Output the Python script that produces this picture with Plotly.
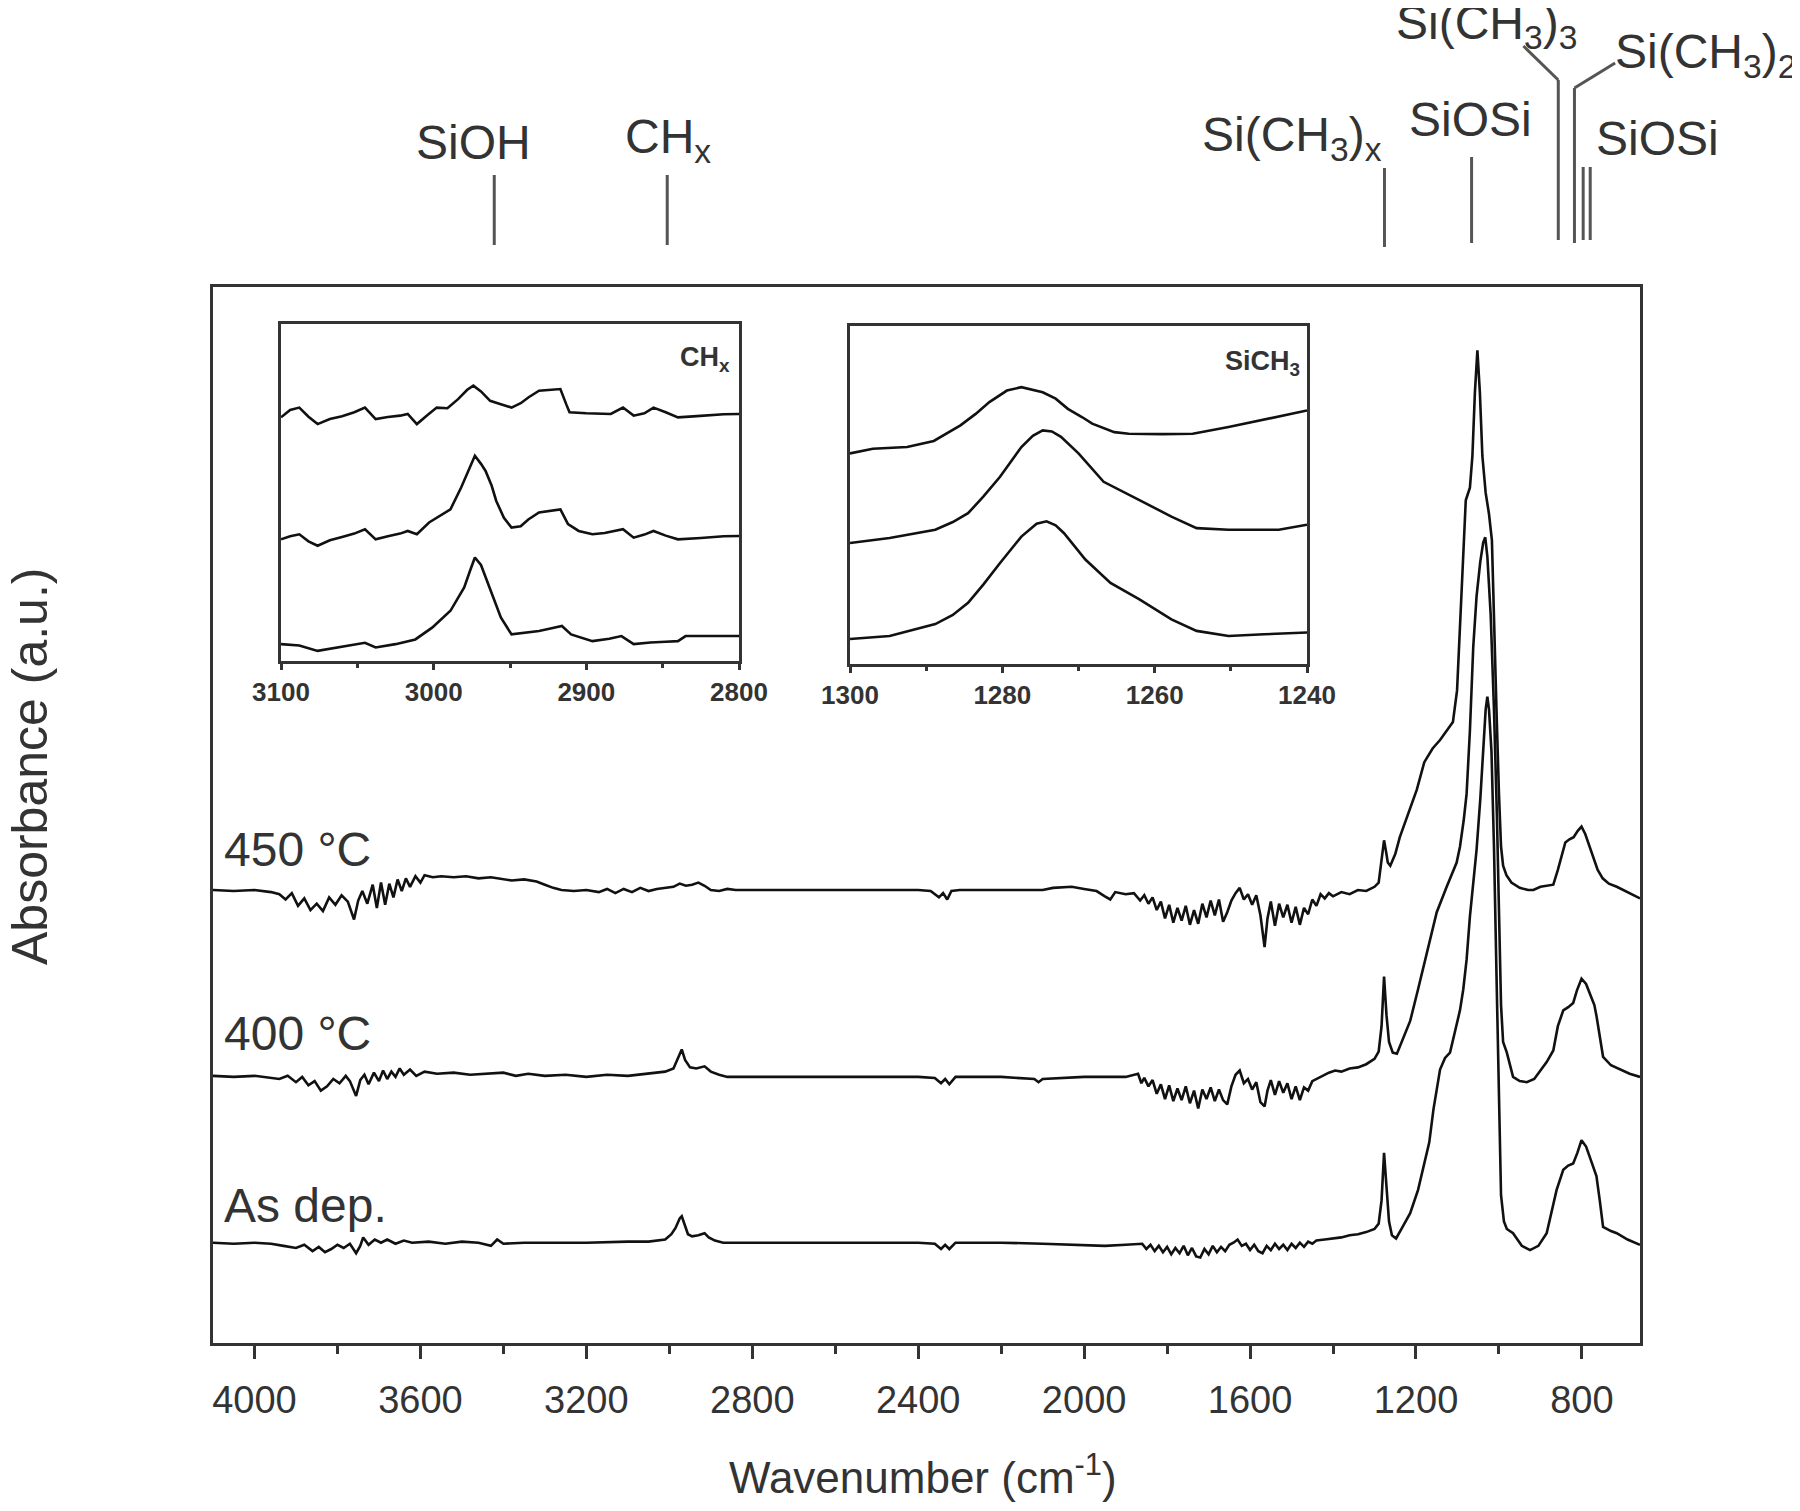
import plotly.graph_objects as go

# ---------------- main spectra (wavenumber, absorbance in arbitrary stacked units) ----------------
WN_450 = [4100, 4050, 4000, 3960, 3940, 3925, 3910, 3895, 3880, 3865,
          3850, 3835, 3820, 3805, 3790, 3775, 3760, 3750, 3740, 3728,
          3715, 3705, 3695, 3685, 3675, 3665, 3655, 3645, 3635, 3625,
          3612, 3600, 3590, 3570, 3550, 3520, 3490, 3460, 3430, 3400,
          3380, 3350, 3320, 3300, 3280, 3260, 3230, 3200, 3170, 3150,
          3130, 3110, 3090, 3070, 3050, 3030, 3010, 2990, 2975, 2960,
          2945, 2930, 2915, 2900, 2880, 2860, 2840, 2700, 2600, 2500,
          2400, 2370, 2350, 2340, 2330, 2320, 2300, 2200, 2100, 2075,
          2030, 2000, 1970, 1950, 1937, 1925, 1900, 1880, 1865, 1855,
          1845, 1835, 1825, 1815, 1805, 1795, 1785, 1775, 1765, 1755,
          1745, 1735, 1725, 1715, 1705, 1695, 1685, 1675, 1665, 1655,
          1645, 1635, 1625, 1615, 1605, 1595, 1585, 1575, 1565, 1558,
          1550, 1540, 1530, 1520, 1510, 1500, 1490, 1480, 1470, 1460,
          1450, 1440, 1430, 1420, 1410, 1400, 1380, 1360, 1340, 1320,
          1300, 1290, 1283, 1277, 1272, 1268, 1262, 1250, 1239, 1220,
          1198, 1180, 1160, 1142, 1125, 1111, 1101, 1094, 1087, 1080,
          1070, 1064, 1058, 1052, 1046, 1040, 1032, 1024, 1017, 1012,
          1006, 1000, 995, 990, 982, 970, 950, 930, 917, 900,
          885, 869, 858, 850, 840, 830, 820, 810, 801, 792,
          782, 772, 762, 750, 735, 716, 690, 660]
A_450 = [42.9, 42.8, 42.9, 42.7, 42.5, 42.0, 42.6, 41.4, 42.1, 41.0,
         41.6, 40.9, 42.2, 41.5, 42.4, 41.8, 40.1, 41.9, 42.8, 41.6,
         43.4, 41.2, 43.6, 41.5, 43.5, 42.2, 43.9, 42.8, 44.0, 43.2,
         44.2, 43.6, 44.3, 44.1, 44.2, 44.1, 44.2, 44.0, 44.1, 43.9,
         43.8, 43.9, 43.7, 43.4, 43.1, 42.9, 42.8, 42.9, 42.7, 43.0,
         42.6, 43.0, 42.7, 43.1, 42.8, 43.0, 43.1, 43.2, 43.5, 43.3,
         43.4, 43.6, 43.3, 42.9, 42.8, 43.0, 42.9, 42.9, 42.9, 42.9,
         42.9, 42.8, 42.2, 42.6, 42.0, 42.8, 42.9, 42.9, 42.9, 43.1,
         43.2, 43.0, 42.8, 42.3, 42.0, 42.7, 42.5, 42.6, 41.9, 42.4,
         41.6, 42.2, 41.0, 41.8, 40.2, 41.5, 39.8, 41.2, 40.0, 41.4,
         39.6, 41.0, 39.7, 41.6, 40.3, 41.9, 40.5, 42.0, 39.9, 40.8,
         41.9, 42.6, 43.1, 42.0, 42.5, 41.5, 42.4, 40.5, 37.5, 40.2,
         41.8, 39.5, 41.6, 40.3, 41.5, 39.8, 41.3, 39.6, 41.2, 40.6,
         42.0, 41.4, 42.5, 42.1, 42.6, 42.3, 42.7, 42.5, 42.9, 42.8,
         43.2, 43.6, 45.5, 47.6, 46.5, 45.5, 45.2, 46.3, 47.9, 50.0,
         52.4, 55.0, 56.3, 57.1, 58.0, 58.8, 61.8, 67.5, 73.9, 79.8,
         81.0, 84.0, 90.0, 94.0, 90.0, 84.0, 80.5, 78.5, 76.0, 68.0,
         60.0, 52.0, 47.0, 45.2, 44.3, 43.6, 43.1, 42.9, 42.9, 43.2,
         43.3, 43.4, 44.8, 46.0, 47.4, 47.7, 47.9, 48.5, 48.9, 48.2,
         47.0, 45.8, 44.8, 44.0, 43.5, 43.2, 42.7, 42.1]

WN_400 = [4100, 4050, 4000, 3960, 3940, 3920, 3900, 3885, 3870, 3855,
          3840, 3825, 3810, 3795, 3780, 3770, 3755, 3745, 3735, 3725,
          3712, 3700, 3690, 3680, 3670, 3660, 3650, 3640, 3625, 3610,
          3590, 3560, 3520, 3480, 3440, 3400, 3370, 3340, 3300, 3250,
          3200, 3150, 3100, 3050, 3010, 2990, 2978, 2970, 2962, 2950,
          2935, 2915, 2900, 2880, 2860, 2800, 2600, 2400, 2360, 2345,
          2335, 2325, 2310, 2200, 2120, 2110, 2100, 2000, 1900, 1870,
          1862, 1855, 1845, 1835, 1825, 1815, 1805, 1795, 1785, 1775,
          1765, 1755, 1745, 1735, 1725, 1715, 1705, 1695, 1685, 1675,
          1665, 1655, 1645, 1635, 1625, 1615, 1605, 1595, 1585, 1575,
          1565, 1558, 1550, 1540, 1530, 1520, 1510, 1500, 1490, 1480,
          1470, 1460, 1450, 1440, 1425, 1410, 1395, 1380, 1360, 1340,
          1320, 1300, 1290, 1283, 1277, 1271, 1265, 1256, 1246, 1230,
          1214, 1195, 1174, 1150, 1126, 1102, 1094, 1085, 1078, 1070,
          1062, 1054, 1045, 1038, 1033, 1028, 1020, 1012, 1005, 999,
          995, 990, 981, 966, 950, 933, 915, 900, 885, 869,
          858, 845, 833, 821, 812, 801, 790, 781, 770, 765,
          757, 749, 730, 708, 685, 660]
A_400 = [25.3, 25.2, 25.3, 25.1, 25.0, 25.3, 24.7, 25.2, 24.4, 24.8,
         23.9, 24.3, 25.0, 24.6, 25.3, 24.8, 23.4, 24.9, 25.4, 24.5,
         25.6, 24.8, 25.8, 25.0, 25.7, 25.2, 26.0, 25.4, 25.9, 25.3,
         25.7, 25.5, 25.6, 25.4, 25.5, 25.6, 25.3, 25.5, 25.3, 25.4,
         25.2, 25.4, 25.3, 25.5, 25.7, 26.0, 27.0, 27.8, 26.8, 26.1,
         26.0, 26.2, 25.7, 25.4, 25.2, 25.2, 25.2, 25.2, 25.1, 24.6,
         25.0, 24.5, 25.2, 25.2, 25.0, 24.7, 25.0, 25.2, 25.2, 25.5,
         24.6, 25.1, 24.3, 24.9, 23.6, 24.5, 23.1, 24.4, 22.9, 24.1,
         23.0, 24.3, 22.7, 23.9, 22.2, 24.0, 23.1, 24.2, 22.9, 24.0,
         23.0, 22.6, 24.3, 25.4, 25.8, 24.6, 25.0, 24.0, 24.7, 22.8,
         22.4, 23.9, 24.9, 23.5, 24.8, 23.7, 24.6, 23.1, 24.3, 23.0,
         24.2, 23.9, 24.8, 25.0, 25.3, 25.6, 25.8, 25.7, 26.0, 26.1,
         26.4, 26.9, 27.6, 30.0, 34.7, 31.0, 28.5, 27.5, 27.4, 29.0,
         30.5, 33.5, 37.0, 40.8, 43.2, 45.5, 47.0, 49.5, 52.0, 58.0,
         65.9, 70.7, 74.0, 75.8, 76.3, 74.5, 69.0, 60.0, 50.0, 40.0,
         32.0, 28.5, 27.5, 25.2, 24.8, 24.7, 25.0, 25.8, 26.6, 27.7,
         30.0, 31.5, 31.8, 32.2, 33.4, 34.5, 34.0, 33.1, 32.0, 31.0,
         29.0, 27.1, 26.3, 25.9, 25.5, 25.2]

WN_AS = [4100, 4050, 4000, 3960, 3930, 3900, 3880, 3860, 3845, 3830,
         3815, 3800, 3785, 3770, 3755, 3745, 3738, 3725, 3710, 3695,
         3680, 3660, 3640, 3620, 3580, 3540, 3500, 3460, 3430, 3415,
         3400, 3350, 3300, 3200, 3100, 3050, 3010, 2995, 2985, 2975,
         2970, 2962, 2955, 2945, 2930, 2915, 2905, 2890, 2870, 2800,
         2600, 2400, 2360, 2345, 2335, 2325, 2310, 2200, 2100, 2000,
         1950, 1900, 1860, 1850, 1840, 1830, 1820, 1810, 1800, 1790,
         1780, 1770, 1760, 1750, 1740, 1730, 1720, 1710, 1700, 1690,
         1680, 1670, 1660, 1650, 1640, 1630, 1620, 1610, 1600, 1590,
         1580, 1570, 1560, 1550, 1540, 1530, 1520, 1510, 1500, 1490,
         1480, 1470, 1460, 1450, 1440, 1420, 1400, 1380, 1360, 1340,
         1320, 1300, 1290, 1283, 1277, 1271, 1265, 1258, 1248, 1235,
         1214, 1195, 1182, 1168, 1158, 1142, 1130, 1118, 1106, 1094,
         1086, 1078, 1070, 1062, 1054, 1045, 1038, 1032, 1028, 1024,
         1018, 1012, 1006, 1000, 995, 988, 981, 966, 945, 925,
         905, 885, 870, 861, 845, 833, 821, 811, 801, 790,
         781, 765, 757, 749, 730, 716, 690, 660]
A_AS = [9.5, 9.4, 9.5, 9.4, 9.2, 9.0, 9.3, 8.7, 9.1, 8.6,
        8.9, 9.3, 9.0, 9.4, 8.5, 9.2, 10.0, 9.3, 9.8, 9.5,
        9.8, 9.4, 9.7, 9.5, 9.6, 9.4, 9.6, 9.5, 9.2, 9.8,
        9.4, 9.5, 9.5, 9.5, 9.6, 9.6, 9.8, 10.3, 10.9, 11.8,
        12.0, 11.0, 10.3, 10.1, 10.2, 10.4, 10.0, 9.7, 9.5, 9.5,
        9.5, 9.5, 9.4, 8.9, 9.3, 8.9, 9.5, 9.5, 9.4, 9.3,
        9.2, 9.3, 9.4, 8.9, 9.3, 8.7, 9.2, 8.6, 9.1, 8.4,
        9.0, 8.5, 9.2, 8.3, 9.0, 8.2, 8.1, 8.9, 8.4, 9.2,
        8.6, 9.1, 8.7, 9.3, 9.5, 9.8, 9.2, 9.4, 8.8, 9.3,
        8.7, 8.5, 9.2, 8.8, 9.4, 8.9, 9.3, 8.8, 9.4, 9.0,
        9.5, 9.1, 9.6, 9.4, 9.7, 9.8, 9.9, 10.0, 10.2, 10.3,
        10.5, 10.8, 11.3, 13.5, 18.0, 14.5, 11.5, 10.2, 9.9, 10.8,
        12.3, 14.5, 16.7, 19.0, 22.1, 25.9, 27.0, 27.5, 29.5, 31.5,
        33.5, 36.3, 40.4, 43.5, 46.7, 51.5, 56.0, 60.0, 61.2, 60.0,
        56.0, 47.0, 35.0, 22.0, 14.0, 11.5, 10.8, 10.4, 9.2, 8.8,
        9.2, 10.4, 12.8, 14.5, 16.4, 16.8, 17.0, 18.0, 19.2, 18.6,
        17.6, 15.8, 13.5, 11.0, 10.6, 10.4, 9.8, 9.3]

SAMPLE_NAMES = ["450 °C", "400 °C", "As dep."]

# ---------------- inset 1: CHx region ----------------
CH_WN_450 = [3100, 3094, 3088, 3082, 3076, 3068, 3060, 3052, 3045, 3038,
             3030, 3022, 3017, 3011, 3004, 2998, 2991, 2984, 2978, 2974,
             2969, 2963, 2956, 2949, 2943, 2938, 2931, 2924, 2917, 2913,
             2911, 2900, 2890, 2884, 2876, 2869, 2862, 2856, 2848, 2840,
             2830, 2820, 2810, 2800]
CH_A_450 = [72.3, 74.5, 75.2, 72.5, 70.3, 71.8, 72.6, 73.8, 75.2, 71.8,
            72.4, 72.8, 73.3, 70.3, 73.0, 75.2, 75.0, 77.7, 80.5, 81.7,
            80.0, 77.2, 76.2, 75.2, 76.5, 78.2, 80.2, 80.5, 80.7, 76.0,
            73.8, 73.5, 73.4, 73.3, 75.2, 72.8, 73.5, 75.2, 73.8, 72.3,
            72.6, 73.0, 73.2, 73.3]
CH_WN_400 = [3100, 3094, 3088, 3082, 3076, 3068, 3060, 3052, 3045, 3038,
             3030, 3022, 3017, 3011, 3003, 2996, 2989, 2982, 2977, 2973,
             2969, 2966, 2962, 2959, 2954, 2949, 2943, 2938, 2931, 2924,
             2917, 2912, 2905, 2896, 2888, 2876, 2869, 2862, 2856, 2848,
             2840, 2825, 2810, 2800]
CH_A_400 = [36.1, 37.0, 37.6, 35.5, 34.2, 35.8, 36.8, 37.8, 39.1, 36.1,
            37.0, 37.8, 38.6, 37.6, 41.1, 43.0, 45.0, 51.5, 57.0, 60.9,
            58.5, 56.4, 52.0, 47.5, 42.5, 39.6, 40.0, 42.0, 44.1, 44.5,
            45.0, 40.6, 38.6, 37.6, 38.0, 39.1, 36.6, 37.5, 38.6, 37.2,
            36.1, 36.5, 37.0, 37.1]
CH_WN_AS = [3100, 3088, 3076, 3060, 3045, 3038, 3025, 3012, 3001, 2989,
            2980, 2976, 2973, 2969, 2966, 2961, 2956, 2949, 2940, 2931,
            2922, 2916, 2910, 2903, 2896, 2885, 2877, 2869, 2858, 2848,
            2840, 2835, 2820, 2800]
CH_A_AS = [5.0, 4.6, 3.0, 4.2, 5.4, 4.0, 5.0, 6.4, 9.9, 14.9,
           21.8, 27.0, 30.7, 28.5, 24.8, 18.5, 12.9, 7.9, 8.3, 8.9,
           9.8, 10.4, 7.9, 6.8, 5.9, 6.6, 7.4, 5.0, 5.5, 5.7,
           5.9, 7.4, 7.4, 7.4]

# ---------------- inset 2: SiCH3 region ----------------
SI_WN_450 = [1300, 1297, 1292.5, 1289, 1285.5, 1283.5, 1281.7, 1279.4, 1277.5, 1274.7,
             1273, 1271.4, 1269.5, 1268.2, 1265.3, 1263.4, 1259, 1255, 1250.3, 1244.2, 1240]
SI_A_450 = [62.3, 63.7, 64.2, 66.0, 70.6, 74.0, 77.5, 80.9, 81.9, 80.4,
            78.5, 75.5, 73.0, 71.1, 68.6, 68.1, 68.0, 68.1, 70.1, 73.0, 75.0]
SI_WN_400 = [1300, 1294.8, 1288.8, 1286.5, 1284.5, 1282.5, 1280.3, 1277.5, 1276, 1274.7,
             1273.5, 1272.3, 1270, 1268.3, 1266.7, 1262, 1257.8, 1254.5, 1250.3, 1243.7, 1240]
SI_A_400 = [35.8, 37.3, 39.7, 42.0, 44.6, 49.5, 55.4, 64.2, 67.5, 69.1,
            68.8, 67.2, 62.3, 58.0, 53.9, 48.5, 43.6, 40.2, 39.7, 39.7, 41.2]
SI_WN_AS = [1300, 1294.8, 1288.8, 1286.5, 1284.5, 1282.5, 1280.3, 1277.5, 1275.5, 1274.2,
            1273, 1271.9, 1269.1, 1265.8, 1262, 1257.8, 1254.5, 1250.3, 1245.6, 1240]
SI_A_AS = [7.4, 8.3, 11.8, 14.5, 18.1, 23.5, 29.9, 37.7, 41.5, 42.2,
           41.0, 38.7, 30.9, 24.0, 19.1, 13.2, 9.8, 8.3, 8.8, 9.3]

# ---------------- band assignments above the frame ----------------
BAND_WN = [3422, 3005, 1276, 1066, 818, 797, 780]
BAND_NAMES = ["SiOH", "CH<sub>x</sub>", "Si(CH<sub>3</sub>)<sub>x</sub>", "SiOSi",
              "Si(CH<sub>3</sub>)<sub>3</sub>", "Si(CH<sub>3</sub>)<sub>2</sub>", "SiOSi"]
SICH33_WN = 857          # Si(CH3)3 marker
LEADER_END_WN = [941, 720]   # ends of the two slanted leader lines

for a, b in [(WN_450, A_450), (WN_400, A_400), (WN_AS, A_AS),
             (CH_WN_450, CH_A_450), (CH_WN_400, CH_A_400), (CH_WN_AS, CH_A_AS),
             (SI_WN_450, SI_A_450), (SI_WN_400, SI_A_400), (SI_WN_AS, SI_A_AS)]:
    assert len(a) == len(b), (len(a), len(b))

FONT = "Liberation Sans, Arial, Helvetica, sans-serif"
INK = "#111111"
TXT = "#333333"
FRAME = "#333333"

fig = go.Figure()
for xs, ys in [(WN_450, A_450), (WN_400, A_400), (WN_AS, A_AS)]:
    fig.add_trace(go.Scatter(x=xs, y=ys, mode="lines", line=dict(color=INK, width=2.6),
                             xaxis="x", yaxis="y", showlegend=False, hoverinfo="skip"))
for xs, ys in [(CH_WN_450, CH_A_450), (CH_WN_400, CH_A_400), (CH_WN_AS, CH_A_AS)]:
    fig.add_trace(go.Scatter(x=xs, y=ys, mode="lines", line=dict(color=INK, width=2.6),
                             xaxis="x2", yaxis="y2", showlegend=False, hoverinfo="skip"))
for xs, ys in [(SI_WN_450, SI_A_450), (SI_WN_400, SI_A_400), (SI_WN_AS, SI_A_AS)]:
    fig.add_trace(go.Scatter(x=xs, y=ys, mode="lines", line=dict(color=INK, width=2.6),
                             xaxis="x3", yaxis="y3", showlegend=False, hoverinfo="skip"))

# The page body has an 8 px margin: the figure is sized so that it exactly fills the window.
PAGE_PAD = 8
WIN_W, WIN_H = 1800, 1511
W, H = WIN_W - 2 * PAGE_PAD, WIN_H - 2 * PAGE_PAD
L, R, T, B = 213, 1640, 287, 1343   # plot frame in window pixels


def px(xpix):
    return (xpix - L) / (R - L)


def py(ypix):
    return (B - ypix) / (B - T)


axis_common = dict(showgrid=False, zeroline=False, showline=True, mirror=True,
                   linecolor=FRAME, linewidth=3)

fig.update_layout(
    width=W, height=H, autosize=False,
    margin=dict(l=L - PAGE_PAD, r=WIN_W - PAGE_PAD - R, t=T - PAGE_PAD, b=WIN_H - PAGE_PAD - B, pad=0),
    paper_bgcolor="white", plot_bgcolor="white",
    font=dict(family=FONT, color=TXT),
    xaxis=dict(**axis_common, domain=[0, 1], range=[4100, 660], anchor="y",
               tickmode="linear", tick0=0, dtick=400, ticks="outside", ticklen=13,
               tickwidth=3, tickcolor=FRAME, ticklabelstandoff=8,
               tickfont=dict(size=38, color=TXT, family=FONT),
               minor=dict(dtick=200, tick0=0, ticks="outside", ticklen=8, tickwidth=3,
                          tickcolor=FRAME, showgrid=False)),
    yaxis=dict(**axis_common, domain=[0, 1], range=[0, 100], anchor="x",
               showticklabels=False, ticks=""),
    xaxis2=dict(**axis_common, domain=[px(281), px(739)], range=[3100, 2800], anchor="y2",
                tickmode="linear", tick0=0, dtick=100, ticks="outside", ticklen=6,
                tickwidth=2.5, tickcolor=FRAME,
                tickfont=dict(size=26, color=TXT, family=FONT, weight="bold"),
                minor=dict(dtick=50, tick0=0, ticks="outside", ticklen=4, tickwidth=2.5,
                           tickcolor=FRAME, showgrid=False)),
    yaxis2=dict(**axis_common, domain=[py(661), py(324)], range=[0, 100], anchor="x2",
                showticklabels=False, ticks=""),
    xaxis3=dict(**axis_common, domain=[px(850), px(1307)], range=[1300, 1240], anchor="y3",
                tickmode="linear", tick0=0, dtick=20, ticks="outside", ticklen=6,
                tickwidth=2.5, tickcolor=FRAME,
                tickfont=dict(size=26, color=TXT, family=FONT, weight="bold"),
                minor=dict(dtick=10, tick0=0, ticks="outside", ticklen=4, tickwidth=2.5,
                           tickcolor=FRAME, showgrid=False)),
    yaxis3=dict(**axis_common, domain=[py(664), py(326)], range=[0, 100], anchor="x3",
                showticklabels=False, ticks=""),
)

ann = []
# axis titles
ann.append(dict(text="Wavenumber (cm<sup>-1</sup>)", x=px(923), y=py(1474), xref="paper", yref="paper",
                showarrow=False, xanchor="center", yanchor="middle", font=dict(size=44, color=TXT)))
ann.append(dict(text="Absorbance (a.u.)", x=px(30), y=py(767), xref="paper", yref="paper",
                showarrow=False, textangle=-90, xanchor="center", yanchor="middle",
                font=dict(size=50, color=TXT)))
# sample labels
for name, yc in zip(SAMPLE_NAMES, [849, 1033, 1205]):
    ann.append(dict(text=name, x=px(222), y=py(yc), xref="paper", yref="paper", showarrow=False,
                    xanchor="left", yanchor="middle", font=dict(size=48, color=TXT)))
# inset labels
ann.append(dict(text="CH<sub>x</sub>", x=px(732), y=py(340), xref="paper", yref="paper",
                showarrow=False, xanchor="right", yanchor="top",
                font=dict(size=27, color=TXT, weight="bold")))
ann.append(dict(text="SiCH<sub>3</sub>", x=px(1302), y=py(344), xref="paper", yref="paper",
                showarrow=False, xanchor="right", yanchor="top",
                font=dict(size=27, color=TXT, weight="bold")))
# band assignment labels
label_pos = [(473, 142, "center"), (668, 140, "center"), (1292, 138, "center"),
             (1470, 120, "center"), (1486, 26, "center"), (1613, 55, "left"), (1657, 138, "center")]
for name, (xp_, yp_, xa) in zip(BAND_NAMES, label_pos):
    ann.append(dict(text=name, x=px(xp_), y=py(yp_), xref="paper", yref="paper", showarrow=False,
                    xanchor=xa, yanchor="middle", font=dict(size=48, color=TXT)))
fig.update_layout(annotations=ann)

# marker lines above the frame
shapes = []
mk = dict(color="#555555", width=3)
band_line_y = [(175, 245), (175, 245), (168, 247), (157, 243), (88, 243), (167, 240), (167, 240)]
for wn, (y0, y1) in zip(BAND_WN, band_line_y):
    shapes.append(dict(type="line", xref="x", yref="paper", x0=wn, x1=wn, y0=py(y1), y1=py(y0), line=mk))
# Si(CH3)3 marker with slanted leader
shapes.append(dict(type="line", xref="x", yref="paper", x0=SICH33_WN, x1=SICH33_WN,
                   y0=py(240), y1=py(80), line=mk))
shapes.append(dict(type="line", xref="x", yref="paper", x0=SICH33_WN, x1=LEADER_END_WN[0],
                   y0=py(80), y1=py(46), line=mk))
# Si(CH3)2 slanted leader
shapes.append(dict(type="line", xref="x", yref="paper", x0=BAND_WN[4], x1=LEADER_END_WN[1],
                   y0=py(88), y1=py(63), line=mk))
fig.update_layout(shapes=shapes)

fig.write_html("out.html")
